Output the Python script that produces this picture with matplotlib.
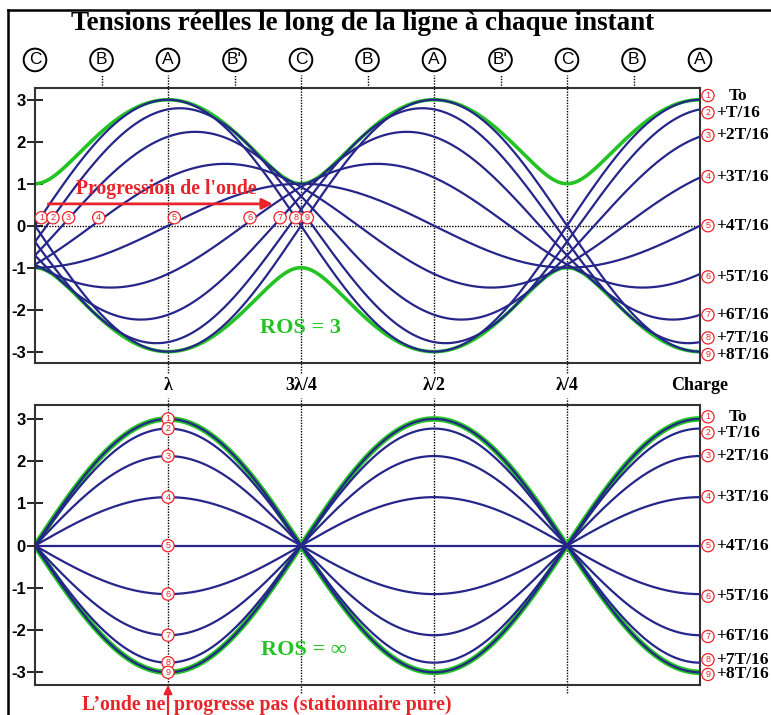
import numpy as np
import matplotlib
matplotlib.use('Agg')
import matplotlib.pyplot as plt
from matplotlib.lines import Line2D

plt.rcParams['axes.unicode_minus'] = False

# ---------------- data ----------------
time_steps = [0, 1, 2, 3, 4, 5, 6, 7, 8]          # multiples of T/16
time_labels = ['To', '+T/16', '+2T/16', '+3T/16', '+4T/16',
               '+5T/16', '+6T/16', '+7T/16', '+8T/16']
ros_values = [3.0, np.inf]                          # top panel, bottom panel
ros_texts = ['ROS = 3', 'ROS = ∞']
peak_voltage = 3.0                                  # max of the envelope
line_length = 1.25                                  # in wavelengths (load at right)
pos_ticks = [0.25, 0.5, 0.75, 1.0, 1.25]
pos_labels = ['λ', '3λ/4', 'λ/2', 'λ/4', 'Charge']
node_pos = [0, 0.125, 0.25, 0.375, 0.5, 0.625, 0.75, 0.875, 1.0, 1.125, 1.25]
node_labels = ['C', 'B', 'A', "B'", 'C', 'B', 'A', "B'", 'C', 'B', 'A']
y_ticks = [-3, -2, -1, 0, 1, 2, 3]
# right-hand label nudges (layout only, in volts)
label_nudge_top = [0.1, -0.08, 0.03, 0.02, 0.0, -0.07, 0.0, 0.1, -0.07]
label_nudge_bot = [0.05, -0.1, 0.01, 0.01, 0.0, -0.05, -0.03, 0.07, -0.05]

BLUE = '#26268a'
GREEN = '#22c322'
RED = '#e8242a'
SERIF = 'Liberation Serif'
SANS = 'Liberation Sans'


def wave(x, k, ros):
    gamma = 1.0 if np.isinf(ros) else (ros - 1) / (ros + 1)
    a = peak_voltage / (1 + gamma)
    u = 2 * np.pi * (line_length - x)
    phi = 2 * np.pi * k / 16
    return a * (np.cos(phi + u) + gamma * np.cos(phi - u))


def envelope(x, ros):
    gamma = 1.0 if np.isinf(ros) else (ros - 1) / (ros + 1)
    a = peak_voltage / (1 + gamma)
    u = 2 * np.pi * (line_length - x)
    return a * np.sqrt(1 + gamma ** 2 + 2 * gamma * np.cos(2 * u))


fig = plt.figure(figsize=(7.71, 7.15), dpi=100)
W, H = 771, 715


def ax_rect(l, t, r, b):
    return [l / W, 1 - b / H, (r - l) / W, (b - t) / H]


ax1 = fig.add_axes(ax_rect(35, 88, 700, 363))
ax2 = fig.add_axes(ax_rect(35, 405, 700, 685))

x = np.linspace(0, line_length, 600)


def circled(ax, xx, yy, s, transform=None, fs=6.5):
    kw = {}
    if transform is not None:
        kw['transform'] = transform
    ax.text(xx, yy, s, ha='center', va='center', fontsize=fs, color=RED,
            family=SANS, zorder=10, clip_on=False,
            bbox=dict(boxstyle='circle,pad=0.18', fc='white', ec=RED, lw=0.9), **kw)


for ax, ros, nudges, ylim in [(ax1, ros_values[0], label_nudge_top, (-3.27, 3.28)),
                              (ax2, ros_values[1], label_nudge_bot, (-3.3, 3.33))]:
    env = envelope(x, ros)
    glw = 2.6 if ax is ax1 else 4.0
    ax.plot(x, env, color=GREEN, lw=glw, zorder=2, solid_capstyle='butt')
    ax.plot(x, -env, color=GREEN, lw=glw, zorder=2, solid_capstyle='butt')
    for k in time_steps:
        ax.plot(x, wave(x, k, ros), color=BLUE, lw=1.6, zorder=3)
    ax.set_xlim(0, line_length)
    ax.set_ylim(*ylim)
    ax.set_xticks([])
    ax.set_yticks(y_ticks)
    ax.set_yticklabels([str(v) for v in y_ticks], fontsize=12, fontweight='bold', family=SANS)
    ax.tick_params(axis='y', direction='inout', length=11, width=1.2, pad=1)
    for sp in ax.spines.values():
        sp.set_linewidth(1.5)
        sp.set_color('#333333')
    # right labels
    yt = ax.get_yaxis_transform()
    for k, lab, nd in zip(time_steps, time_labels, nudges):
        yv = wave(line_length, k, ros) + nd
        circled(ax, 1.012, yv, str(k + 1), transform=yt)
        xt = 1.043 if k == 0 else 1.025
        ax.text(xt, yv, lab, transform=yt, ha='left', va='center', fontsize=12.5,
                fontweight='bold', family=SERIF, clip_on=False)

# ---- top panel decorations ----
xt1 = ax1.get_xaxis_transform()
ax1.axhline(0, color='black', lw=1, ls=(0, (1, 1)), zorder=1)
for p in [0.25, 0.5, 0.75, 1.0]:
    ax1.plot([p, p], [-0.035, 1.047], transform=xt1, color='black', lw=1,
             ls=(0, (1, 1)), clip_on=False, zorder=1)
for p in [0.125, 0.375, 0.625, 0.875, 1.125]:
    ax1.plot([p, p], [1.0, 1.047], transform=xt1, color='black', lw=1,
             ls=(0, (1, 1)), clip_on=False, zorder=1)
for p, lab in zip(node_pos, node_labels):
    ax1.text(p, 1.102, lab, transform=xt1, ha='center', va='center', fontsize=12.5,
             family=SANS, clip_on=False,
             bbox=dict(boxstyle='circle,pad=0.22', fc='white', ec='black', lw=1.4))

# zero-crossing markers (upward crossings) on the top panel
for k in time_steps:
    xs = np.linspace(0, 0.55, 5000)
    v = wave(xs, k, ros_values[0])
    idx = np.where((v[:-1] <= 0) & (v[1:] > 0))[0]
    xc = 0.0 if len(idx) == 0 else xs[idx[0]]
    circled(ax1, xc + 0.012, 0.19, str(k + 1))

ax1.text(0.5, -2.43, ros_texts[0], ha='center', va='center', fontsize=16,
         fontweight='bold', family=SERIF, color=GREEN, zorder=6)
ax1.text(0.246, 0.88, "Progression de l'onde", ha='center', va='center', fontsize=14.2,
         fontweight='bold', family=SERIF, color=RED, zorder=6)
ax1.annotate('', xy=(0.447, 0.52), xytext=(0.025, 0.52),
             arrowprops=dict(arrowstyle='-|>', color=RED, lw=2, mutation_scale=16,
                             shrinkA=0, shrinkB=0), zorder=6)

# ---- labels between panels ----
for p, lab in zip(pos_ticks, pos_labels):
    fig.text((35 + p / line_length * 665) / W, 1 - 386 / H, lab, ha='center', va='center',
             fontsize=13, fontweight='bold', family=SERIF)

# ---- bottom panel decorations ----
xt2 = ax2.get_xaxis_transform()
for p in [0.25, 0.5, 0.75, 1.0]:
    ax2.plot([p, p], [-0.03, 1.025], transform=xt2, color='black', lw=1,
             ls=(0, (1, 1)), clip_on=False, zorder=1)
for k in time_steps:
    circled(ax2, 0.25, wave(0.25, k, ros_values[1]), str(k + 1))
ax2.text(0.505, -2.46, ros_texts[1], ha='center', va='center', fontsize=16,
         fontweight='bold', family=SERIF, color=GREEN, zorder=6)
ax2.annotate('', xy=(0.25, 0.0), xycoords=xt2, xytext=(0.25, -0.12), textcoords=xt2,
             arrowprops=dict(arrowstyle='-|>', color=RED, lw=1.6, mutation_scale=12,
                             shrinkA=0, shrinkB=0), annotation_clip=False)
fig.text(165 / W, 1 - 705 / H, 'L’onde ne', ha='right', va='center', fontsize=14.2,
         fontweight='bold', family=SERIF, color=RED)
fig.text(174 / W, 1 - 705 / H, 'progresse pas (stationnaire pure)', ha='left', va='center',
         fontsize=14.2, fontweight='bold', family=SERIF, color=RED)

# ---- title and frame ----
fig.text(363 / W, 1 - 23 / H, 'Tensions réelles le long de la ligne à chaque instant',
         ha='center', va='center', fontsize=19.5, fontweight='bold', family=SERIF)
fig.add_artist(Line2D([8 / W, 8 / W], [0, 1 - 10 / H], color='black', lw=1.8))
fig.add_artist(Line2D([8 / W, 1], [1 - 10 / H, 1 - 10 / H], color='black', lw=1.8))

fig.savefig('out.png', dpi=100)
